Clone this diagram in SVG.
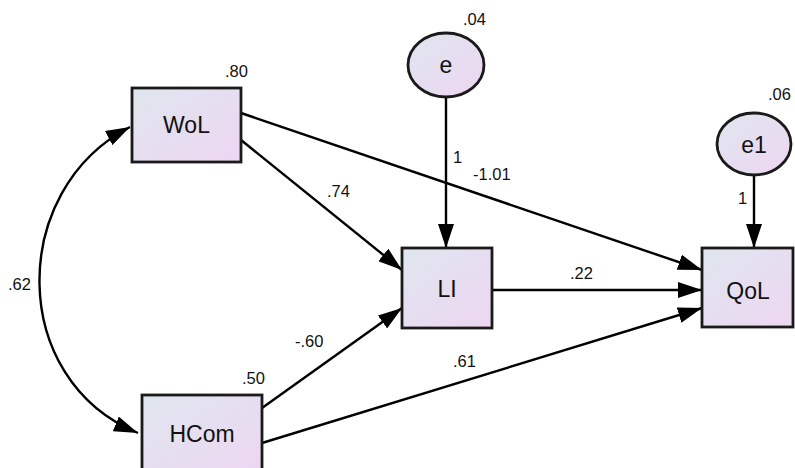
<svg xmlns="http://www.w3.org/2000/svg" width="795" height="468" viewBox="0 0 795 468">
<defs>
<linearGradient id="fill" x1="0" y1="0" x2="1" y2="1">
<stop offset="0" stop-color="#dfe6ee"/>
<stop offset="1" stop-color="#edd6f2"/>
</linearGradient>
<marker id="arr" markerUnits="userSpaceOnUse" markerWidth="24" markerHeight="16" refX="24" refY="8" orient="auto-start-reverse" viewBox="0 0 24 16">
<path d="M0,0 L24,8 L0,16 z" fill="#000"/>
</marker>
<style>
.box{fill:url(#fill);stroke:#1a1a1a;stroke-width:2.8}
.lbl{font-family:"Liberation Sans",Arial,sans-serif;font-size:23px;fill:#111;text-anchor:middle;dominant-baseline:central}
.num{font-family:"Liberation Sans",Arial,sans-serif;font-size:16.5px;fill:#111}
.ln{stroke:#000;stroke-width:2.4;fill:none;marker-end:url(#arr)}
</style>
</defs>
<rect width="795" height="468" fill="#fff"/>
<g id="connectors">
<path class="ln" d="M130,127 C8,190 8,380 138,433" style="marker-start:url(#arr)"/>
<line class="ln" x1="446" y1="97" x2="446" y2="248"/>
<line class="ln" x1="754" y1="175" x2="754" y2="248"/>
<line class="ln" x1="241" y1="140" x2="402" y2="270"/>
<line class="ln" x1="241" y1="113" x2="702" y2="270"/>
<line class="ln" x1="262" y1="408" x2="402" y2="308"/>
<line class="ln" x1="262" y1="443" x2="702" y2="308"/>
<line class="ln" x1="492" y1="290" x2="702" y2="290"/>
<text class="num" x="8" y="290">.62</text>
<text class="num" x="453" y="163">1</text>
<text class="num" x="738" y="204">1</text>
<text class="num" x="327" y="197">.74</text>
<text class="num" x="473" y="180">-1.01</text>
<text class="num" x="295" y="347">-.60</text>
<text class="num" x="453" y="367">.61</text>
<text class="num" x="570" y="279">.22</text>
</g>
<g id="WoL">
<rect class="box" x="132" y="88" width="109" height="74"/>
<text class="lbl" x="186.5" y="125">WoL</text>
<text class="num" x="225" y="77">.80</text>
</g>
<g id="HCom">
<rect class="box" x="142" y="395" width="120" height="80"/>
<text class="lbl" x="202" y="434">HCom</text>
<text class="num" x="242" y="384">.50</text>
</g>
<g id="LI">
<rect class="box" x="402" y="248" width="90" height="80"/>
<text class="lbl" x="447" y="289">LI</text>
</g>
<g id="QoL">
<rect class="box" x="702" y="248" width="91" height="79"/>
<text class="lbl" x="748" y="291">QoL</text>
</g>
<g id="e">
<ellipse class="box" cx="446" cy="65" rx="38" ry="32"/>
<text class="lbl" x="446" y="65">e</text>
<text class="num" x="463" y="25">.04</text>
</g>
<g id="e1">
<ellipse class="box" cx="754" cy="144" rx="37" ry="31"/>
<text class="lbl" x="754" y="145">e1</text>
<text class="num" x="768" y="100">.06</text>
</g>
</svg>
